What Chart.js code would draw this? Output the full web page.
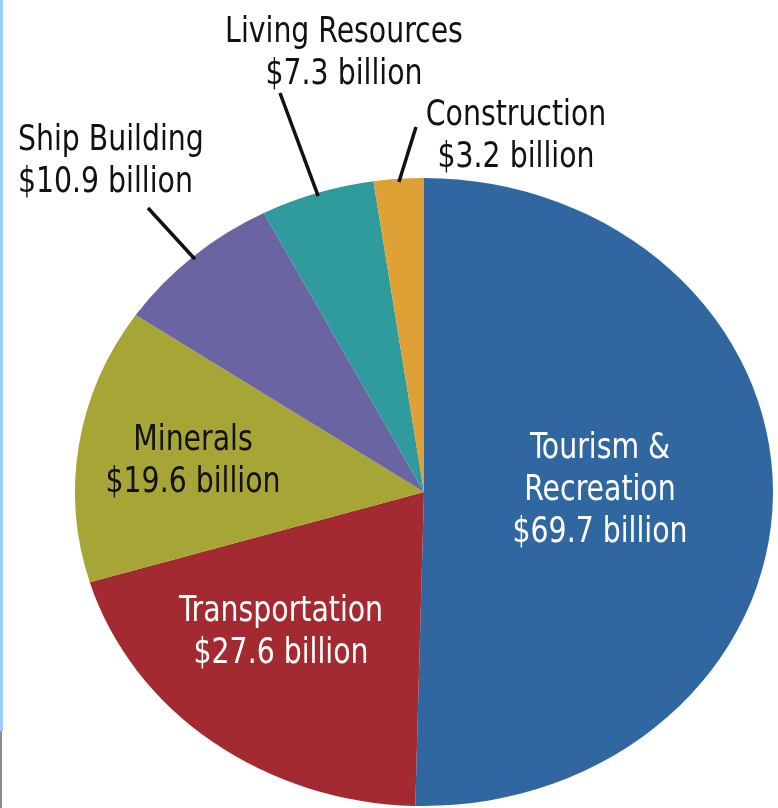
<!DOCTYPE html>
<html>
<head>
<meta charset="utf-8">
<title>Ocean economy by sector</title>
<script src="https://cdn.jsdelivr.net/npm/chart.js@4.4.1/dist/chart.umd.min.js"></script>
<style>
  html, body { margin: 0; padding: 0; background: #fff; }
  #wrap { position: relative; width: 778px; height: 808px; overflow: hidden; }
  #oceanChart { position: absolute; left: 0; top: 0; }
  #edgeTop { position: absolute; left: 0; top: 0; width: 3px; height: 731px; background: #9dcbfb; }
  #edgeLow { position: absolute; left: 0; top: 731px; width: 2px; height: 77px; background: #8c8c8c; }
</style>
</head>
<body>
<div id="wrap">
  <canvas id="oceanChart" width="778" height="808"></canvas>
  <div id="edgeTop"></div>
  <div id="edgeLow"></div>
</div>
<script>
document.addEventListener('DOMContentLoaded', function() {
    // sectors, clockwise from 12 o'clock
    const sectors = ['Tourism & Recreation', 'Transportation', 'Minerals', 'Ship Building', 'Living Resources', 'Construction'];
    const nameLines = [['Tourism &', 'Recreation'], ['Transportation'], ['Minerals'], ['Ship Building'], ['Living Resources'], ['Construction']];
    const gdpBillions = [69.7, 27.6, 19.6, 10.9, 7.3, 3.2];
    const sliceColors = ['#3167a0', '#a32a30', '#a6a536', '#6a64a3', '#2f9b9c', '#dda135'];

    // where each label goes: x, first baseline, alignment, colour, leader line end (or null)
    const labelSpots = [
        { x: 600, y: 458, align: 'center', color: '#ffffff', leader: null },
        { x: 281, y: 621, align: 'center', color: '#ffffff', leader: null },
        { x: 193, y: 450, align: 'center', color: '#111111', leader: null },
        { x: 18,  y: 150, align: 'left',   color: '#111111', leader: [148, 208] },
        { x: 344, y: 42,  align: 'center', color: '#111111', leader: [280, 93] },
        { x: 516, y: 125, align: 'center', color: '#111111', leader: [416, 127] }
    ];

    const stretchX = 349 / 314;   // pie is drawn a little wider than tall
    const fontSize = 35;
    const textSqueeze = 0.9;      // narrow the condensed face a bit more
    const lineGap = 42;
    const fontFace = '"Liberation Sans Narrow", "DejaVu Sans Condensed", "Roboto", sans-serif';

    const widenPie = {
        id: 'widenPie',
        beforeDatasetsDraw(chart) {
            const arc = chart.getDatasetMeta(0).data[0];
            const ctx = chart.ctx;
            ctx.save();
            ctx.translate(arc.x, arc.y);
            ctx.scale(stretchX, 1);
            ctx.translate(-arc.x, -arc.y);
        },
        afterDatasetsDraw(chart) {
            chart.ctx.restore();
        }
    };

    const sectorLabels = {
        id: 'sectorLabels',
        afterDraw(chart) {
            const ctx = chart.ctx;
            const arcs = chart.getDatasetMeta(0).data;
            ctx.save();

            // leader lines from the rim of the small slices
            ctx.strokeStyle = '#111111';
            ctx.lineWidth = 3.5;
            ctx.lineCap = 'butt';
            arcs.forEach(function(arc, i) {
                const spot = labelSpots[i];
                if (!spot.leader) return;
                const mid = (arc.startAngle + arc.endAngle) / 2;
                const r = arc.outerRadius * 0.99;
                const px = arc.x + Math.cos(mid) * r * stretchX;
                const py = arc.y + Math.sin(mid) * r;
                ctx.beginPath();
                ctx.moveTo(px, py);
                ctx.lineTo(spot.leader[0], spot.leader[1]);
                ctx.stroke();
            });

            ctx.font = fontSize + 'px ' + fontFace;
            ctx.textBaseline = 'alphabetic';
            gdpBillions.forEach(function(value, i) {
                const spot = labelSpots[i];
                const lines = nameLines[i].concat(['$' + value.toFixed(1) + ' billion']);
                ctx.fillStyle = spot.color;
                ctx.textAlign = spot.align;
                lines.forEach(function(line, k) {
                    ctx.save();
                    ctx.translate(spot.x, spot.y + k * lineGap);
                    ctx.scale(textSqueeze, 1);
                    ctx.fillText(line, 0, 0);
                    ctx.restore();
                });
            });
            ctx.restore();
        }
    };

    const ctx = document.getElementById('oceanChart').getContext('2d');
    const oceanChart = new Chart(ctx, {
        type: 'pie',
        data: {
            labels: sectors,
            datasets: [{
                data: gdpBillions,
                backgroundColor: sliceColors,
                borderWidth: 0,
                clip: false
            }]
        },
        options: {
            responsive: false,
            animation: false,
            events: [],
            layout: {
                padding: { left: 110, right: 40, top: 178, bottom: 2 }
            },
            plugins: {
                legend: { display: false },
                tooltip: { enabled: false }
            }
        },
        plugins: [widenPie, sectorLabels]
    });
});
</script>
</body>
</html>
